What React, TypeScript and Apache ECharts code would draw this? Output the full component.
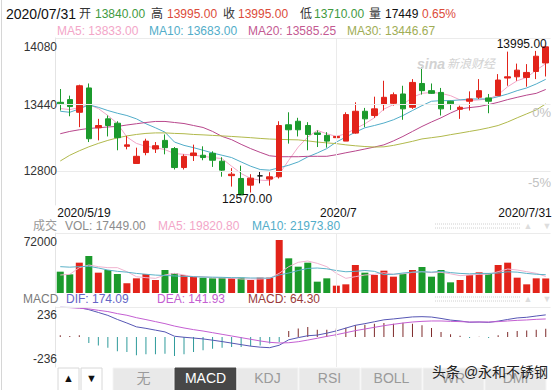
import React, { useEffect, useRef } from 'react';
import * as echarts from 'echarts';

const dates = [
  '2020/5/19','2020/5/20','2020/5/21','2020/5/22','2020/5/25','2020/5/26','2020/5/27','2020/5/28','2020/5/29',
  '2020/6/1','2020/6/2','2020/6/3','2020/6/4','2020/6/5','2020/6/8','2020/6/9','2020/6/10','2020/6/11','2020/6/12',
  '2020/6/15','2020/6/16','2020/6/17','2020/6/18','2020/6/19','2020/6/22','2020/6/23','2020/6/24','2020/6/29','2020/6/30',
  '2020/7/1','2020/7/2','2020/7/3','2020/7/6','2020/7/7','2020/7/8','2020/7/9','2020/7/10','2020/7/13','2020/7/14',
  '2020/7/15','2020/7/16','2020/7/17','2020/7/20','2020/7/21','2020/7/22','2020/7/23','2020/7/24','2020/7/27','2020/7/28',
  '2020/7/29','2020/7/30','2020/7/31',
];
const opens = [13462,13488,13366,13600,13217,13303,13261,13039,12874,12979,13013,13096,13017,12835,12950,12953,12972,12896,12757,12730,12666,12755,12724,12746,13246,13280,13239,13168,13144,13122,13089,13166,13376,13335,13440,13452,13542,13414,13643,13574,13557,13472,13395,13472,13510,13504,13526,13695,13707,13701,13758,13840];
const closes = [13447,13421,13621,13112,13239,13239,13122,13053,12943,13089,13045,13026,12835,12943,12975,12931,12905,12810,12771,12571,12733,12755,12746,13239,13198,13198,13153,13153,13089,13134,13344,13376,13303,13399,13510,13535,13399,13653,13574,13548,13399,13447,13414,13494,13574,13472,13676,13707,13771,13749,13905,13995];
const lows = [13383,13328,13223,13080,13096,13134,13001,13010,12874,12953,12975,12962,12816,12816,12898,12905,12841,12747,12652,12570,12595,12683,12661,12730,13065,13134,13001,13032,13026,13070,13089,13160,13223,13313,13383,13430,13294,13399,13536,13542,13335,13389,13303,13383,13494,13357,13526,13621,13669,13612,13685,13710];
const highs = [13590,13526,13631,13643,13303,13335,13280,13139,13026,13112,13080,13153,13032,12962,13055,13039,12991,12934,12829,12853,12771,12793,12790,13280,13366,13313,13271,13192,13175,13166,13366,13462,13408,13516,13669,13557,13621,13685,13796,13643,13600,13478,13430,13567,13685,13542,13733,13949,13834,13829,13956,13995];

const ma5 = [13402,13392,13411,13440,13402,13335,13258,13128,13067,13039,13026,13007,12969,12962,12953,12943,12931,12921,12848,12778,12730,12714,12709,12771,12905,13032,13128,13192,13160,13134,13160,13208,13256,13313,13397,13440,13440,13510,13548,13557,13548,13526,13485,13478,13485,13494,13535,13612,13669,13701,13771,13833];
const ma10 = [13376,13366,13399,13437,13414,13383,13357,13335,13303,13256,13217,13175,13080,13048,13026,13001,12975,12953,12931,12889,12848,12816,12810,12833,12857,12889,12937,12975,13017,13080,13128,13175,13217,13239,13263,13294,13335,13383,13430,13472,13478,13478,13485,13494,13494,13494,13516,13542,13574,13600,13638,13683];
const ma20 = [13160,13182,13198,13211,13217,13225,13230,13244,13256,13268,13278,13278,13268,13258,13239,13220,13182,13134,13103,13058,13017,12981,12948,12939,12939,12939,12943,12943,12943,12958,12977,12994,13013,13032,13053,13091,13134,13182,13230,13273,13313,13359,13399,13411,13421,13440,13462,13488,13510,13531,13548,13585.25];
const ma30 = [12898,12953,12996,13034,13067,13096,13120,13139,13153,13163,13168,13168,13163,13160,13153,13149,13144,13139,13134,13128,13122,13115,13109,13106,13103,13101,13091,13080,13072,13065,13053,13044,13037,13032,13034,13048,13067,13087,13110,13122,13134,13151,13166,13182,13198,13217,13239,13273,13313,13351,13389,13446.67];

const volumes = [25600,22400,36400,44400,24400,27600,22800,11600,17600,22800,15600,27600,23600,21600,19600,18400,17600,18400,17600,18400,15600,18400,18400,63600,41600,31600,36400,13600,17600,8800,10400,33600,24400,21600,26800,19600,22800,27600,31200,19600,27600,12800,15600,21600,24800,23600,33600,36400,18400,10400,17600,17449];
const volMa5 = [21600,22400,30400,33600,31600,30400,30400,25600,19600,18400,17600,21600,23600,21600,19600,19600,18400,18000,18000,16800,16800,16800,17600,23600,31600,36800,38400,35600,31600,23600,17600,19600,21600,22400,24400,22400,23000,24800,25600,24500,24800,23000,20800,21600,22400,22400,25600,28800,27600,25600,23600,19820.8];
const volMa10 = [31600,31000,31600,32000,30000,27600,26000,25000,23500,22500,21500,21000,20500,20000,19600,19200,19000,18800,18400,18400,18000,18000,17800,21600,24000,27000,29500,30000,29000,27000,25500,26000,27000,26000,22000,22500,24000,25000,25500,25000,26000,24500,23500,23000,23500,23500,24000,25500,25000,23500,22500,21973.8];

const dif = [234,233,231,215,193,170,138,110,80,68,54,40,6,-2,-8,-15,-25,-36,-48,-60,-72,-80,-84,-65,-22,-5,10,15,30,48,70,92,105,120,135,142,150,158,160,157,146,133,126,116,118,115,125,138,150,155,165,174.09];
const dea = [234,231,226,221,210,200,184,171,152,137,121,105,86,71,58,47,34,21,8,-5,-18,-31,-42,-47,-45,-37,-24,-10,5,18,34,50,63,76,89,100,110,118,123,126,126,123,121,118,118,118,121,126,131,134,139,141.93];
const macdHist = [13,8,13,-47,-66,-84,-113,-118,-144,-136,-136,-131,-149,-136,-118,-105,-92,-84,-79,-79,-73,-66,-52,-39,47,66,79,58,58,66,73,92,97,105,110,105,113,105,92,71,39,21,10,-8,2,-8,13,39,47,52,58,64.3];

const priceTicks = [12800, 13440, 14080];
const priceMin = 12475;
const percentBase = 13360;
const percentTicks = [0, -5];
const volTicks = [72000];
const macdTicks = [236, -236];
const dateLabelIdx = [0, 29, 51];
const dateLabelText = ['2020/5/19', '2020/7', '2020/7/31'];
const tabs = ['无', 'MACD', 'KDJ', 'RSI', 'BOLL', 'WR', 'DMI'];
const activeTab = 'MACD';

const RED = '#e2231a';
const GREEN = '#1b9a2c';
const C_MA5 = '#f3a6c8';
const C_MA10 = '#52adc9';
const C_MA20 = '#b8478c';
const C_MA30 = '#b1b94c';
const C_DIF = '#5656b4';
const C_DEA = '#c45fd2';
const FONT = 'Arial, "Liberation Sans", "Noto Sans CJK SC", sans-serif';
const GRID_LINE = '#ebebeb';

const GRIDS = [
  { left: 55.5, width: 495, top: 38, height: 167 },
  { left: 55.5, width: 495, top: 233, height: 60 },
  { left: 55.5, width: 495, top: 307, height: 60 },
];

const julyIdx = dates.indexOf('2020/7/1');

function lineSeries(name: string, data: number[], color: string, axis: number) {
  return {
    name, type: 'line', data, xAxisIndex: axis, yAxisIndex: axis,
    symbol: 'none', smooth: false, silent: true,
    lineStyle: { color, width: 1 }, itemStyle: { color },
  };
}

function buildOption(): any {
  const gridMark = (vals: number[]) => ({
    silent: true, symbol: ['none', 'none'], label: { show: false },
    lineStyle: { color: GRID_LINE, type: 'solid', width: 1 },
    emphasis: { disabled: true },
    data: [...vals.map((v) => ({ yAxis: v })), { xAxis: julyIdx }],
  });
  return {
    animation: false,
    backgroundColor: '#fff',
    grid: GRIDS,
    xAxis: [0, 1, 2].map((i) => ({
      type: 'category', gridIndex: i, data: dates, boundaryGap: true,
      axisLine: { show: false }, axisTick: { show: false }, axisLabel: { show: false }, splitLine: { show: false },
    })),
    yAxis: [
      { type: 'value', gridIndex: 0, min: priceMin, max: 14080 },
      { type: 'value', gridIndex: 1, min: 0, max: 72000 },
      { type: 'value', gridIndex: 2, min: -236, max: 236 },
    ].map((a) => ({
      ...a, axisLabel: { show: false }, splitLine: { show: false }, axisTick: { show: false },
      axisLine: { show: true, lineStyle: { color: '#e4e4e4' } },
    })),
    series: [
      {
        type: 'candlestick', xAxisIndex: 0, yAxisIndex: 0, barWidth: 6, silent: true,
        data: dates.map((_, i) => [opens[i], closes[i], lows[i], highs[i]]),
        itemStyle: { color: RED, color0: GREEN, borderColor: RED, borderColor0: GREEN, borderColorDoji: '#111', borderWidth: 1 },
        markLine: gridMark(priceTicks),
        z: 3,
      },
      lineSeries('MA5', ma5, C_MA5, 0),
      lineSeries('MA10', ma10, C_MA10, 0),
      lineSeries('MA20', ma20, C_MA20, 0),
      lineSeries('MA30', ma30, C_MA30, 0),
      {
        type: 'bar', xAxisIndex: 1, yAxisIndex: 1, barWidth: 7, silent: true,
        data: volumes.map((v, i) => ({ value: v, itemStyle: { color: closes[i] >= opens[i] ? RED : GREEN } })),
        markLine: gridMark(volTicks),
      },
      lineSeries('VMA5', volMa5, '#f0b3cf', 1),
      lineSeries('VMA10', volMa10, '#5cb2c8', 1),
      {
        type: 'bar', xAxisIndex: 2, yAxisIndex: 2, barWidth: 1, silent: true,
        data: macdHist.map((v) => ({ value: v, itemStyle: { color: v >= 0 ? '#7e2b2b' : '#2f9b9b' } })),
        markLine: gridMark([macdTicks[0]]),
      },
      lineSeries('DIF', dif, C_DIF, 2),
      lineSeries('DEA', dea, C_DEA, 2),
    ],
  };
}

function txt(x: number, y: number, text: string, fill: string, size = 12, align = 'left', extra: any = {}) {
  return {
    type: 'text', x, y, silent: true, z: 100,
    style: {
      text, fill, fontSize: size, fontFamily: FONT,
      align, verticalAlign: 'middle', textAlign: align, textVerticalAlign: 'middle', ...extra,
    },
  };
}

function buildGraphics(chart: any): any[] {
  const g: any[] = [];
  const px = (grid: number, xi: number, v: number) => chart.convertToPixel({ gridIndex: grid }, [xi, v]) as number[];
  const last = dates.length - 1;

  // frame
  g.push({ type: 'line', silent: true, shape: { x1: 1.5, y1: 0, x2: 1.5, y2: 390 }, style: { stroke: '#d6d6d6', lineWidth: 1 } });

  // header row 1
  const prevClose = closes[last - 1];
  const pct = ((closes[last] - prevClose) / prevClose) * 100;
  const row1: [string, number, string, number?][] = [
    ['2020/07/31', 6, '#111', 14],
    ['开', 79, '#333'], [opens[last].toFixed(2), 95, '#3f9a3f'],
    ['高', 151, '#333'], [highs[last].toFixed(2), 167, '#dc4b3a'],
    ['收', 223, '#333'], [closes[last].toFixed(2), 238, '#dc4b3a'],
    ['低', 300, '#333'], [lows[last].toFixed(2), 314, '#3f9a3f'],
    ['量', 369, '#333'], [String(volumes[last]), 385, '#111'],
    [pct.toFixed(2) + '%', 422, '#dc4b3a'],
  ];
  row1.forEach(([t, x, c, s]) => g.push(txt(x, 14, t, c, s || 12)));
  // header row 2
  const row2: [string, number, string][] = [
    ['MA5: ' + ma5[last].toFixed(2), 57, C_MA5],
    ['MA10: ' + ma10[last].toFixed(2), 149, C_MA10],
    ['MA20: ' + ma20[last].toFixed(2), 248, '#c45a92'],
    ['MA30: ' + ma30[last].toFixed(2), 347, '#a0ad55'],
  ];
  row2.forEach(([t, x, c]) => g.push(txt(x, 31, t, c, 12)));

  // sina watermark
  g.push(txt(417, 64, 'sina', '#d2d2d2', 14, 'left', { fontWeight: 'bold', fontStyle: 'italic' }));
  g.push(txt(447, 64, '新浪财经', '#d2d2d2', 12, 'left', { fontStyle: 'italic' }));

  // price axis labels
  priceTicks.forEach((v) => {
    const y = px(0, 0, v)[1];
    g.push(txt(57, v === 14080 ? y + 9 : y, String(v), '#333', 12, 'right'));
  });
  percentTicks.forEach((p) => {
    const y = px(0, 0, percentBase * (1 + p / 100))[1];
    g.push(txt(551, y, p + '%', '#c2c2c2', 13, 'right'));
  });
  // high / low labels
  let hi = 0, lo = 0;
  highs.forEach((h, i) => { if (h > highs[hi]) hi = i; });
  lows.forEach((l, i) => { if (l < lows[lo]) lo = i; });
  const hp = px(0, hi, highs[hi]);
  g.push(txt(hp[0] + 1, hp[1] - 3, highs[hi].toFixed(2), '#111', 12, 'right'));
  const lp = px(0, lo, lows[lo]);
  g.push(txt(lp[0] + 6, lp[1] + 4, lows[lo].toFixed(2), '#111', 12, 'center'));

  // date labels
  dateLabelIdx.forEach((i, k) => {
    const x = px(0, i, 13000)[0];
    const align = k === 0 ? 'left' : k === dateLabelIdx.length - 1 ? 'right' : 'center';
    const dx = k === 0 ? -3 : k === dateLabelIdx.length - 1 ? 6 : 2;
    g.push(txt(x + dx, 213, dateLabelText[k], '#111', 12, align));
  });

  // volume legend
  g.push(txt(33, 226, '成交', '#999', 12));
  g.push(txt(65, 226, 'VOL: ' + volumes[last].toFixed(2), '#8c8c8c', 12));
  g.push(txt(158, 226, 'MA5: ' + volMa5[last].toFixed(2), C_MA5, 12));
  g.push(txt(252, 226, 'MA10: ' + volMa10[last].toFixed(2), C_MA10, 12));
  volTicks.forEach((v) => {
    const y = px(1, 0, v)[1];
    g.push(txt(57, y + 9, String(v), '#333', 12, 'right'));
  });

  // macd legend
  g.push(txt(23, 299, 'MACD', '#7a7a7a', 12));
  g.push(txt(66, 299, 'DIF: ' + dif[last].toFixed(2), '#6464c6', 12));
  g.push(txt(157, 299, 'DEA: ' + dea[last].toFixed(2), C_DEA, 12));
  g.push(txt(248, 299, 'MACD: ' + macdHist[last].toFixed(2), '#9a3a3a', 12));
  macdTicks.forEach((v) => {
    const y = px(2, 0, v)[1];
    g.push(txt(57, v > 0 ? y + 8 : y - 8, String(v), '#333', 12, 'right'));
  });

  // scroll widgets (right of legends)
  [226, 299].forEach((y) => {
    g.push({ type: 'line', silent: true, shape: { x1: 435, y1: y - 2, x2: 520, y2: y - 2 }, style: { stroke: '#d0d0d0', lineWidth: 1, lineDash: [1, 1] } });
    g.push({ type: 'line', silent: true, shape: { x1: 435, y1: y + 2, x2: 520, y2: y + 2 }, style: { stroke: '#d0d0d0', lineWidth: 1, lineDash: [1, 1] } });
    g.push(txt(528, y, '▲', '#dddddd', 9, 'center'));
    g.push(txt(547, y, '▼', '#dddddd', 9, 'center'));
  });

  // tab bar
  g.push({ type: 'rect', silent: true, shape: { x: 58, y: 368, width: 21, height: 24 }, style: { fill: '#fff', stroke: '#d8d8d8' } });
  g.push({ type: 'rect', silent: true, shape: { x: 81, y: 368, width: 21, height: 24 }, style: { fill: '#fff', stroke: '#d8d8d8' } });
  g.push(txt(68.5, 378, '▲', '#111', 11, 'center'));
  g.push(txt(91.5, 378, '▼', '#111', 11, 'center'));
  tabs.forEach((t, k) => {
    const x = 113 + k * 62;
    const active = t === activeTab;
    g.push({ type: 'rect', silent: true, z: 90, shape: { x, y: 368, width: 61, height: 24 }, style: { fill: active ? '#474747' : '#e9e9e9', stroke: active ? '#474747' : '#f4f4f4' } });
    g.push(txt(x + 30.5, 378, t, active ? '#fff' : '#9a9a9a', 14, 'center'));
  });
  g.push(txt(432, 372, '头条 @永和不锈钢', '#222', 14, 'left'));
  return g;
}

export default function App() {
  const ref = useRef<HTMLDivElement>(null);
  useEffect(() => {
    document.body.style.margin = '0';
    const chart = echarts.init(ref.current!, null, { renderer: 'svg' });
    chart.setOption(buildOption());
    chart.setOption({ graphic: buildGraphics(chart) });
    return () => chart.dispose();
  }, []);
  return <div ref={ref} style={{ width: 560, height: 390, background: '#fff' }} />;
}
